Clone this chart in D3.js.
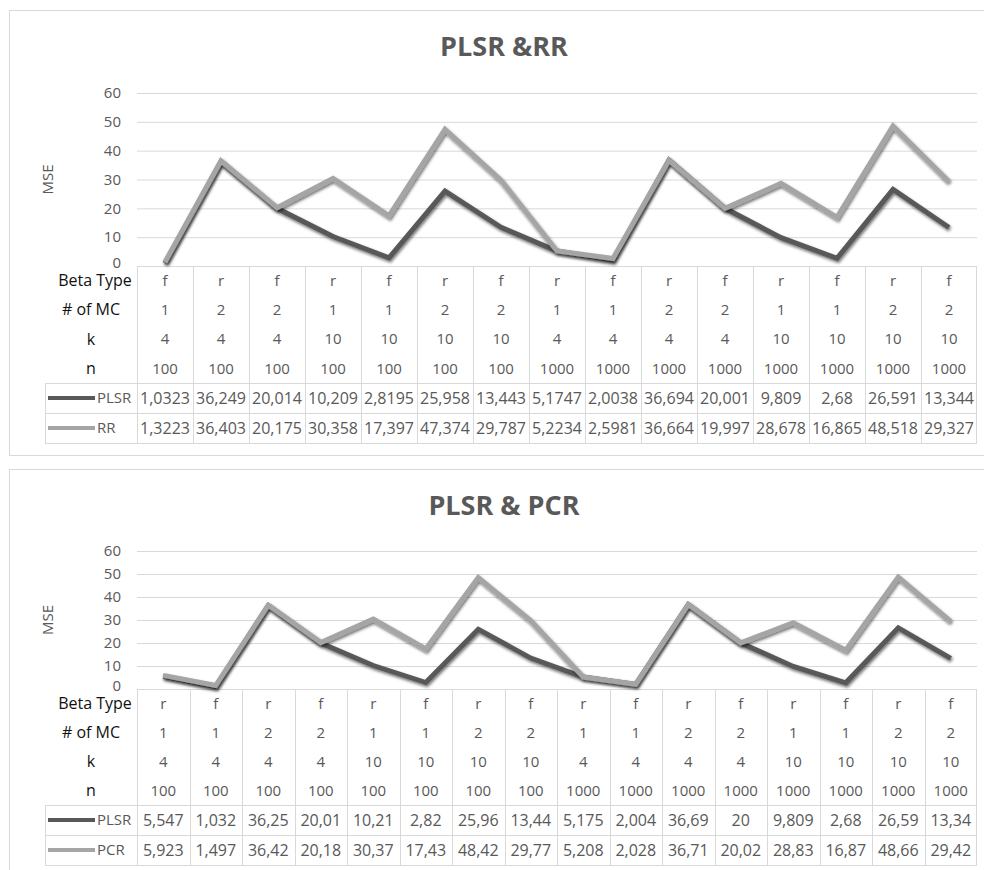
<!DOCTYPE html>
<html lang="en">
<head>
    <meta charset="UTF-8">
    <title>PLSR &RR / PLSR & PCR</title>
    <script src="https://d3js.org/d3.v7.min.js"></script>
    <style>
        body { margin: 0; background: #fff; }
        svg { display: block; font-family: "Open Sans", sans-serif; }
    </style>
</head>
<body>
    <div id="chart"></div>
    <script>
        // ---- top chart: PLSR vs RR ----
        const topBeta = ["f", "r", "f", "r", "f", "r", "f", "r", "f", "r", "f", "r", "f", "r", "f"];
        const topMC = ["1", "2", "2", "1", "1", "2", "2", "1", "1", "2", "2", "1", "1", "2", "2"];
        const topK = ["4", "4", "4", "10", "10", "10", "10", "4", "4", "4", "4", "10", "10", "10", "10"];
        const topN = ["100", "100", "100", "100", "100", "100", "100", "1000", "1000", "1000", "1000", "1000", "1000", "1000", "1000"];
        const topPLSR = [1.0323, 36.249, 20.014, 10.209, 2.8195, 25.958, 13.443, 5.1747, 2.0038, 36.694, 20.001, 9.809, 2.68, 26.591, 13.344];
        const topRR = [1.3223, 36.403, 20.175, 30.358, 17.397, 47.374, 29.787, 5.2234, 2.5981, 36.664, 19.997, 28.678, 16.865, 48.518, 29.327];

        // ---- bottom chart: PLSR vs PCR ----
        const botBeta = ["r", "f", "r", "f", "r", "f", "r", "f", "r", "f", "r", "f", "r", "f", "r", "f"];
        const botMC = ["1", "1", "2", "2", "1", "1", "2", "2", "1", "1", "2", "2", "1", "1", "2", "2"];
        const botK = ["4", "4", "4", "4", "10", "10", "10", "10", "4", "4", "4", "4", "10", "10", "10", "10"];
        const botN = ["100", "100", "100", "100", "100", "100", "100", "100", "1000", "1000", "1000", "1000", "1000", "1000", "1000", "1000"];
        const botPLSR = [5.547, 1.032, 36.25, 20.01, 10.21, 2.82, 25.96, 13.44, 5.175, 2.004, 36.69, 20, 9.809, 2.68, 26.59, 13.34];
        const botPCR = [5.923, 1.497, 36.42, 20.18, 30.37, 17.43, 48.42, 29.77, 5.208, 2.028, 36.71, 20.02, 28.83, 16.87, 48.66, 29.42];

        const rowNames = ["Beta Type", "# of MC", "k", "n"];
        const yTicks = [0, 10, 20, 30, 40, 50, 60];

        const darkGray = "#595959";
        const lightGray = "#a5a5a5";
        const gridColor = "#d9d9d9";

        const svg = d3.select("#chart").append("svg")
            .attr("width", 984)
            .attr("height", 870);

        // soft drop shadow like the Excel line style
        const filter = svg.append("defs").append("filter")
            .attr("id", "shadow")
            .attr("x", "-5%").attr("y", "-20%")
            .attr("width", "110%").attr("height", "140%");
        filter.append("feDropShadow")
            .attr("dx", 1).attr("dy", 2)
            .attr("stdDeviation", 1.6)
            .attr("flood-color", "#000")
            .attr("flood-opacity", 0.55);

        function drawChart(cfg) {
            const g = svg.append("g");

            g.append("rect")
                .attr("x", 9.5).attr("y", cfg.boxTop + 0.5)
                .attr("width", 1000).attr("height", cfg.boxHeight)
                .attr("fill", "none")
                .attr("stroke", gridColor);

            g.append("text")
                .attr("x", 504).attr("y", cfg.titleY)
                .attr("text-anchor", "middle")
                .attr("font-size", 27)
                .attr("font-weight", "bold")
                .attr("fill", darkGray)
                .text(cfg.title);

            const x = d3.scaleBand()
                .domain(d3.range(cfg.beta.length))
                .range([137, 977]);

            const y = d3.scaleLinear()
                .domain([0, 60])
                .range([cfg.yZero, cfg.yTop]);

            // y axis with gridlines
            const yAxis = g.append("g")
                .attr("transform", "translate(137,0)")
                .call(d3.axisLeft(y).tickValues(yTicks).tickSize(-(977 - 137)).tickPadding(16));
            yAxis.select(".domain").remove();
            yAxis.selectAll("line").attr("stroke", gridColor);
            yAxis.selectAll("text")
                .attr("fill", darkGray)
                .attr("font-size", 15)
                .attr("font-family", "Open Sans, sans-serif")
                .attr("dy", d => d === 0 ? "0.12em" : "0.32em");

            g.append("text")
                .attr("transform", `translate(53,${(cfg.yTop + cfg.yZero) / 2}) rotate(-90)`)
                .attr("text-anchor", "middle")
                .attr("font-size", 15)
                .attr("fill", darkGray)
                .text("MSE");

            // data table
            const rowH = (cfg.blockBottom - cfg.yZero) / 4;
            const cats = [cfg.beta, cfg.mc, cfg.k, cfg.n];
            const legH = (cfg.tableBottom - cfg.blockBottom) / 2;

            const grid = g.append("g").attr("stroke", gridColor).attr("shape-rendering", "crispEdges");
            x.domain().forEach(i => {
                grid.append("line")
                    .attr("x1", x(i) + 0.5).attr("x2", x(i) + 0.5)
                    .attr("y1", cfg.yZero).attr("y2", cfg.tableBottom);
            });
            grid.append("line")
                .attr("x1", 976.5).attr("x2", 976.5)
                .attr("y1", cfg.yZero).attr("y2", cfg.tableBottom);
            grid.append("line")
                .attr("x1", 45.5).attr("x2", 45.5)
                .attr("y1", cfg.blockBottom).attr("y2", cfg.tableBottom);
            [cfg.blockBottom, cfg.blockBottom + legH, cfg.tableBottom].forEach(yy => {
                grid.append("line")
                    .attr("x1", 45).attr("x2", 977)
                    .attr("y1", Math.round(yy) + 0.5).attr("y2", Math.round(yy) + 0.5);
            });

            rowNames.forEach((name, r) => {
                const cy = cfg.yZero + rowH * (r + 0.5);
                g.append("text")
                    .attr("x", r === 0 ? 95 : 91).attr("y", cy)
                    .attr("dy", "0.35em")
                    .attr("text-anchor", "middle")
                    .attr("font-size", 16)
                    .attr("fill", "#111")
                    .text(name);
                g.selectAll(null)
                    .data(cats[r])
                    .join("text")
                    .attr("x", (d, i) => x(i) + x.bandwidth() / 2)
                    .attr("y", cy)
                    .attr("dy", "0.35em")
                    .attr("text-anchor", "middle")
                    .attr("font-size", 15)
                    .attr("fill", darkGray)
                    .text(d => d);
            });

            const line = d3.line()
                .x((d, i) => x(i) + x.bandwidth() / 2)
                .y(d => y(d));

            const fmt = v => d3.format(cfg.fmt)(v).replace(".", ",");

            cfg.series.forEach((s, si) => {
                const cy = cfg.blockBottom + legH * (si + 0.5);
                g.append("line")
                    .attr("x1", 48).attr("x2", 95)
                    .attr("y1", cy).attr("y2", cy)
                    .attr("stroke", s.color)
                    .attr("stroke-width", 4);
                g.append("text")
                    .attr("x", 97).attr("y", cy)
                    .attr("dy", "0.35em")
                    .attr("font-size", 15)
                    .attr("fill", darkGray)
                    .text(s.name);
                g.selectAll(null)
                    .data(s.values)
                    .join("text")
                    .attr("x", (d, i) => x(i) + x.bandwidth() / 2)
                    .attr("y", cy)
                    .attr("dy", "0.35em")
                    .attr("text-anchor", "middle")
                    .attr("font-size", 16)
                    .attr("fill", darkGray)
                    .text(d => fmt(d));
            });

            cfg.series.forEach(s => {
                g.append("path")
                    .datum(s.values)
                    .attr("d", line)
                    .attr("fill", "none")
                    .attr("stroke", s.color)
                    .attr("stroke-width", 5)
                    .attr("stroke-linejoin", "miter")
                    .attr("filter", "url(#shadow)");
            });
        }

        drawChart({
            title: "PLSR &RR",
            boxTop: 10, boxHeight: 445, titleY: 56,
            yTop: 93, yZero: 266, blockBottom: 383, tableBottom: 443,
            beta: topBeta, mc: topMC, k: topK, n: topN,
            fmt: ".5~r",
            series: [
                { name: "PLSR", values: topPLSR, color: darkGray },
                { name: "RR", values: topRR, color: lightGray }
            ]
        });

        drawChart({
            title: "PLSR & PCR",
            boxTop: 469, boxHeight: 420, titleY: 515,
            yTop: 551, yZero: 689, blockBottom: 805, tableBottom: 865,
            beta: botBeta, mc: botMC, k: botK, n: botN,
            fmt: ".4~r",
            series: [
                { name: "PLSR", values: botPLSR, color: darkGray },
                { name: "PCR", values: botPCR, color: lightGray }
            ]
        });
    </script>
</body>
</html>
